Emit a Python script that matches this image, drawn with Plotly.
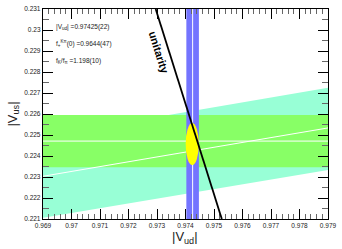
import plotly.graph_objects as go
import math

# ---- data ----
vud_center = 0.97425
vud_err = 0.00022
vus_center = 0.22471          # from f+(0) (Kl3)
vus_err = 0.00124
ratio_center = 0.23017        # |Vus|/|Vud| from fK/fpi
ratio_lo = 0.22813
ratio_hi = 0.23213
fit_vud = 0.974236            # combined fit (yellow ellipse)
fit_vud_err = 0.00023
fit_vus = 0.22457
fit_vus_err = 0.00100

x_range = [0.969, 0.979]
y_range = [0.221, 0.231]
x_ticks = [0.969, 0.970, 0.971, 0.972, 0.973, 0.974, 0.975, 0.976, 0.977, 0.978, 0.979]
x_ticklabels = ["0.969", "0.97", "0.971", "0.972", "0.973", "0.974", "0.975", "0.976", "0.977", "0.978", "0.979"]
y_ticks = [0.221, 0.222, 0.223, 0.224, 0.225, 0.226, 0.227, 0.228, 0.229, 0.230, 0.231]
y_ticklabels = ["0.221", "0.222", "0.223", "0.224", "0.225", "0.226", "0.227", "0.228", "0.229", "0.23", "0.231"]
info_lines = ["|V<sub>ud</sub>| =0.97425(22)",
              "f<sub>+</sub><sup>Kπ</sup>(0) =0.9644(47)",
              "f<sub>K</sub>/f<sub>π</sub> =1.198(10)"]
info_y = [0.23013, 0.22934, 0.22854]

TEAL = "#98FFD6"
GREEN = "#88FF66"
BLUE = "#7474FF"
YELLOW = "#FFFF00"

fig = go.Figure()
x0, x1 = x_range
# teal wedge (ratio band)
fig.add_trace(go.Scatter(
    x=[x0, x1, x1, x0, x0],
    y=[ratio_lo * x0, ratio_lo * x1, ratio_hi * x1, ratio_hi * x0, ratio_lo * x0],
    fill="toself", fillcolor=TEAL, line=dict(width=0), mode="lines", hoverinfo="skip"))
# green horizontal band
fig.add_trace(go.Scatter(
    x=[x0, x1, x1, x0, x0],
    y=[vus_center - vus_err] * 2 + [vus_center + vus_err] * 2 + [vus_center - vus_err],
    fill="toself", fillcolor=GREEN, line=dict(width=0), mode="lines", hoverinfo="skip"))
# center lines
fig.add_trace(go.Scatter(x=[x0, x1], y=[ratio_center * x0, ratio_center * x1],
                         mode="lines", line=dict(color="white", width=1), hoverinfo="skip"))
fig.add_trace(go.Scatter(x=[x0, x1], y=[vus_center, vus_center],
                         mode="lines", line=dict(color="white", width=1), hoverinfo="skip"))
# blue vertical band
y0, y1 = y_range
fig.add_trace(go.Scatter(
    x=[vud_center - vud_err, vud_center + vud_err, vud_center + vud_err, vud_center - vud_err, vud_center - vud_err],
    y=[y0, y0, y1, y1, y0],
    fill="toself", fillcolor=BLUE, line=dict(width=0), mode="lines", hoverinfo="skip"))
fig.add_trace(go.Scatter(x=[vud_center, vud_center], y=[y0, y1],
                         mode="lines", line=dict(color="white", width=1), hoverinfo="skip"))

# yellow ellipse
fig.add_shape(type="circle", xref="x", yref="y",
              x0=fit_vud - fit_vud_err, x1=fit_vud + fit_vud_err,
              y0=fit_vus - fit_vus_err, y1=fit_vus + fit_vus_err,
              fillcolor=YELLOW, line=dict(width=0), layer="above")
# unitarity line |Vud|^2 + |Vus|^2 = 1
fig.add_shape(type="line", xref="x", yref="y",
              x0=math.sqrt(1 - y1 ** 2), y0=y1, x1=math.sqrt(1 - y0 ** 2), y1=y0,
              line=dict(color="black", width=1.8), layer="above")

fig.add_annotation(x=0.97308, y=0.22892, xref="x", yref="y", text="<b>unitarity</b>",
                   textangle=72.6, showarrow=False,
                   font=dict(family="Liberation Sans, Arial", size=11, color="black"))

for t, yy in zip(info_lines, info_y):
    fig.add_annotation(x=0.96938, y=yy, xref="x", yref="y", text=t, showarrow=False,
                       xanchor="left", yanchor="middle",
                       font=dict(family="Liberation Sans, Arial", size=6.5, color="#222"))

# axis titles
fig.add_annotation(x=-0.107, y=0.5, xref="paper", yref="paper", text="|V<sub>us</sub>|",
                   textangle=-90, showarrow=False, xanchor="center", yanchor="middle",
                   font=dict(family="Liberation Sans, Arial", size=13, color="#222"))
fig.add_annotation(x=0.498, y=-0.089, xref="paper", yref="paper", text="|V<sub>ud</sub>|",
                   showarrow=False, xanchor="center", yanchor="middle",
                   font=dict(family="Liberation Sans, Arial", size=13, color="#222"))

axis_common = dict(showgrid=False, zeroline=False, showline=True, linecolor="black", linewidth=1.2,
                   mirror="allticks", ticks="inside", tickcolor="black", tickwidth=1,
                   tickfont=dict(family="Liberation Sans, Arial", size=6.5, color="#222"))
fig.update_xaxes(range=x_range, tickvals=x_ticks, ticktext=x_ticklabels, ticklen=10,
                 minor=dict(dtick=0.0002, ticks="inside", ticklen=5, tickcolor="#666", tick0=0.969),
                 **axis_common)
fig.update_yaxes(range=y_range, tickvals=y_ticks, ticktext=y_ticklabels, ticklen=10,
                 minor=dict(dtick=0.0005, ticks="inside", ticklen=6, tickcolor="#666", tick0=0.221),
                 **axis_common)

fig.update_layout(width=342, height=249, margin=dict(l=43, r=10, t=5, b=30),
                  plot_bgcolor="white", paper_bgcolor="white", showlegend=False,
                  font=dict(family="Liberation Sans, Arial"))
fig.write_html("out.html", config={"displayModeBar": False, "staticPlot": True},
               post_script="document.body.style.margin='0';document.body.style.overflow='hidden';")
